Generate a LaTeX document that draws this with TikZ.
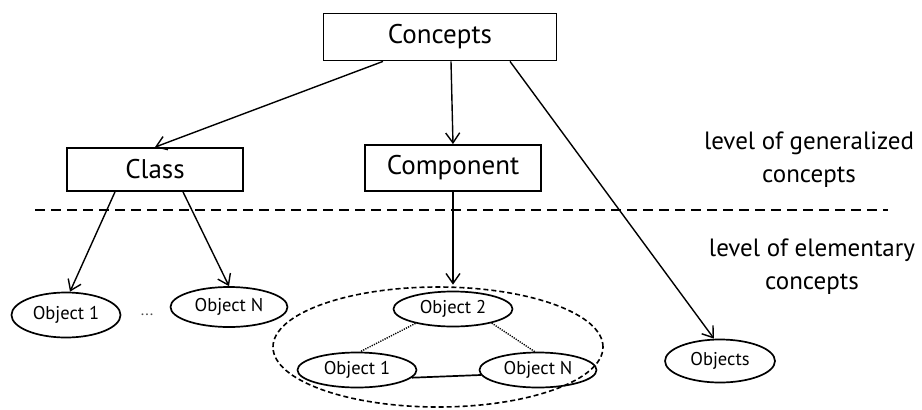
\documentclass[tikz,border=0pt]{standalone}
\usepackage{fontspec}
\setmainfont{PT Sans}
\usetikzlibrary{arrows.meta,shapes.geometric,calc}
\begin{document}
\begin{tikzpicture}[x=1pt,y=-1pt,
  box/.style={draw,line width=1.8pt,inner sep=0pt,font=\fontsize{27}{30}\selectfont},
  obj/.style={draw,ellipse,line width=1.7pt,inner sep=0pt,font=\fontsize{18.5}{20}\selectfont},
  arr/.style={line width=1.4pt,-{Straight Barb[length=10pt,width=14pt,line width=1.4pt]}},
  lvl/.style={align=center,font=\fontsize{25}{33}\selectfont},
]
\useasboundingbox (0,0) rectangle (922,410);
\node[box,minimum width=233pt,minimum height=47pt] (concepts) at (440,37) {Concepts};
\node[box,minimum width=176pt,minimum height=43pt] (class) at (155,169.5) {Class};
\node[box,minimum width=176pt,minimum height=46pt] (component) at (453,168) {Component};

\coordinate (dl) at (35,210);
\coordinate (dr) at (888,210);
\draw[line width=2.3pt,dash pattern=on 10pt off 6pt] (dl) -- (dr);

\node[lvl] (gen) at (809,160) {level of generalized\\concepts};
\node[lvl] (elem) at (812,267) {level of elementary\\concepts};

\node[obj,minimum width=109pt,minimum height=45pt] (o1) at (66,315) {Object 1};
\node[obj,minimum width=117pt,minimum height=40pt] (oN) at (229,307) {Object N};
\node[font=\fontsize{16}{18}\selectfont,text=black!70] (dots) at (147,315) {...};

\node[draw,ellipse,line width=1.6pt,dash pattern=on 5pt off 3pt,minimum width=330pt,minimum height=120pt,inner sep=0pt] (group) at (438,347) {};
\node[obj,minimum width=119pt,minimum height=35pt] (o2) at (453,309) {Object 2};
\node[obj,minimum width=119pt,minimum height=35pt] (io1) at (357,370) {Object 1};
\node[obj,minimum width=117pt,minimum height=35pt] (ioN) at (538,370) {Object N};
\node[obj,minimum width=110pt,minimum height=43pt] (objs) at (720,361) {Objects};

\draw[arr] ([xshift=-57pt]concepts.south) -- (class.north);
\draw[arr] ([xshift=11pt]concepts.south) -- (component.north);
\draw[arr] ([xshift=70pt]concepts.south) -- ([xshift=-6pt]objs.north);
\draw[arr] ([xshift=-40pt]class.south) -- ([xshift=4pt]o1.north);
\draw[arr] ([xshift=28pt]class.south) -- (oN.north);
\draw[arr,shorten >=6pt] (component.south) -- (o2.north);

\draw[line width=1.4pt,dash pattern=on 1.2pt off 1.2pt] (o2.201) -- (io1.80);
\draw[line width=1.4pt,dash pattern=on 1.2pt off 1.2pt] (o2.340) -- (ioN.100);
\draw[line width=1.7pt] (io1.-8) -- (ioN.185);
\end{tikzpicture}
\end{document}
